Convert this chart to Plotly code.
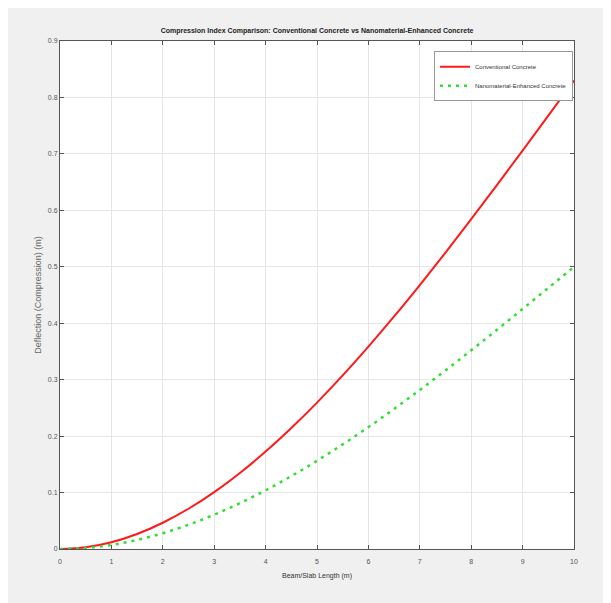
import plotly.graph_objects as go

length_m = [0, 0.5, 1, 1.5, 2, 2.5, 3, 3.5, 4, 4.5, 5, 5.5, 6, 6.5, 7, 7.5, 8, 8.5, 9, 9.5, 10]
conventional = [0, 0.0031, 0.012, 0.0266, 0.0465, 0.0713, 0.1008, 0.1347, 0.1726, 0.2143,
                0.2594, 0.3076, 0.3586, 0.412, 0.4677, 0.5252, 0.5843, 0.6447, 0.7059, 0.7678, 0.83]
nano_enhanced = [0, 0.0018, 0.0073, 0.016, 0.028, 0.043, 0.0608, 0.0812, 0.104, 0.1291,
                 0.1563, 0.1853, 0.216, 0.2482, 0.2818, 0.3164, 0.352, 0.3883, 0.4253, 0.4625, 0.50]
x_ticks = [0, 1, 2, 3, 4, 5, 6, 7, 8, 9, 10]
y_ticks = [0, 0.1, 0.2, 0.3, 0.4, 0.5, 0.6, 0.7, 0.8, 0.9]

fig = go.Figure()
fig.add_trace(go.Scatter(x=length_m, y=conventional, mode="lines", name="Conventional Concrete",
                         line=dict(color="#ff1a1a", width=2, shape="spline")))
fig.add_trace(go.Scatter(x=length_m, y=nano_enhanced, mode="lines", name="Nanomaterial-Enhanced Concrete",
                         line=dict(color="#33dd33", width=2.5, dash="3px,5px", shape="spline")))

axis_common = dict(showline=True, linecolor="#555555", linewidth=1, mirror="ticks",
                   ticks="inside", ticklen=4, tickcolor="#555555",
                   showgrid=True, gridcolor="#e6e6e6", gridwidth=1, zeroline=False,
                   tickfont=dict(family="Liberation Sans, Arial", size=7, color="#555555"))

fig.update_layout(
    width=603, height=595,
    paper_bgcolor="#f0f0f0", plot_bgcolor="#ffffff",
    margin=dict(l=52, r=37, t=33, b=54),
    title=dict(text="<b>Compression Index Comparison: Conventional Concrete vs Nanomaterial-Enhanced Concrete</b>",
               x=0.5, xref="paper", xanchor="center", y=1, yref="container", yanchor="top", pad=dict(t=20),
               font=dict(family="Liberation Sans, Arial", size=7, color="#222222")),
    xaxis=dict(range=[0, 10], tickvals=x_ticks, ticktext=[str(v) for v in x_ticks],
               ticklabelstandoff=6,
               title=dict(text="Beam/Slab Length (m)", standoff=8,
                          font=dict(family="Liberation Sans, Arial", size=7, color="#333333")),
               **axis_common),
    yaxis=dict(range=[0, 0.9], tickvals=y_ticks, ticktext=["0"] + [f"{v:.1f}" for v in y_ticks[1:]],
               title=dict(text="Deflection (Compression) (m)", standoff=4,
                          font=dict(family="Liberation Sans, Arial", size=9, color="#666666")),
               **axis_common),
    legend=dict(x=0.998, y=0.98, xanchor="right", yanchor="top", bgcolor="#ffffff",
                bordercolor="#999999", borderwidth=1, itemwidth=30, tracegroupgap=0,
                font=dict(family="Liberation Sans, Arial", size=6, color="#333333")),
    showlegend=True,
)

fig.write_html("out.html")
